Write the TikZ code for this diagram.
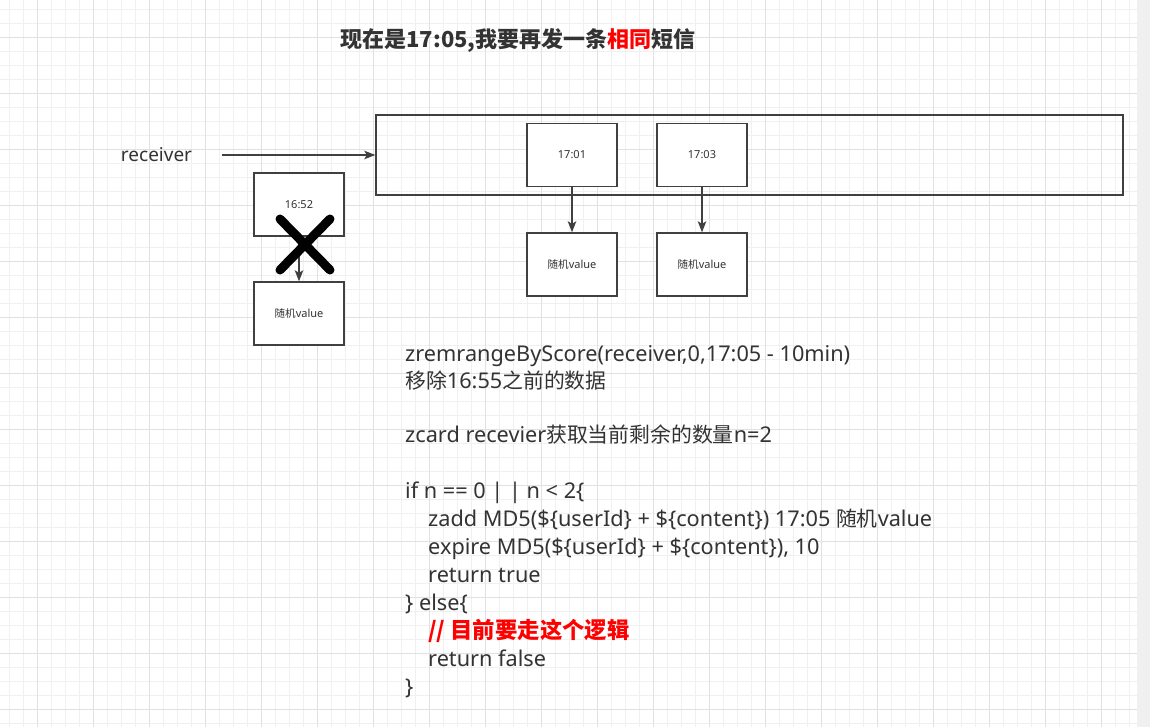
\documentclass[tikz,border=0pt]{standalone}
\usepackage{fontspec}
\setmainfont{Noto Sans}
\newfontfamily\zh{Noto Sans CJK SC}[Scale=0.96]
\newfontfamily\zhb{Noto Sans CJK SC}
\usetikzlibrary{arrows.meta}
\definecolor{txt}{HTML}{333333}
\definecolor{ln}{HTML}{404040}
\definecolor{gminor}{HTML}{F0F0F0}
\definecolor{gmajor}{HTML}{E1E1E1}
\definecolor{strip}{HTML}{F0F0F0}
\newcommand{\Z}[1]{{\zh #1}}
\tikzset{
  box/.style={draw=ln, line width=1.4pt, fill=white, minimum width=90pt, minimum height=63pt, inner sep=0pt, text=txt, font=\fontsize{11}{13}\selectfont},
  arr/.style={draw=ln, line width=1.3pt, -{Stealth[length=11pt,width=8.5pt,inset=2.5pt]}},
  code/.style={anchor=base west, inner sep=0pt, text=txt, font=\fontsize{21.7}{26}\selectfont},
}
\begin{document}
\begin{tikzpicture}[x=1pt,y=-1pt]
\useasboundingbox (0,0) rectangle (1150,727);
\fill[white] (0,0) rectangle (1150,727);
% grid
\foreach \i in {0,...,80} {
  \pgfmathtruncatemacro{\m}{mod(\i,4)}
  \ifnum\m=2 \else \draw[gminor, line width=0.9pt] ({9.33+14*\i},0) -- ({9.33+14*\i},727); \fi
}
\foreach \i in {0,...,51} {
  \pgfmathtruncatemacro{\m}{mod(\i,4)}
  \ifnum\m=2 \else \draw[gminor, line width=0.9pt] (0,{9.33+14*\i}) -- (1137,{9.33+14*\i}); \fi
}
\foreach \i in {2,6,...,80} { \draw[gmajor, line width=1pt] ({9.33+14*\i},0) -- ({9.33+14*\i},727); }
\foreach \i in {2,6,...,50} { \draw[gmajor, line width=1pt] (0,{9.33+14*\i}) -- (1137,{9.33+14*\i}); }
\fill[strip] (1137,0) rectangle (1150,727);

% title
\node[text=txt, font=\fontsize{22}{26}\selectfont\zhb\bfseries, inner sep=0pt] (title) at (518,40)
  {现在是17:05,我要再发一条\textcolor{red}{相同}短信};

% receiver
\node[text=txt, font=\fontsize{19}{23}\selectfont, inner sep=0pt] (recv) at (156.5,155) {receiver};
\coordinate (rstart) at (222,155);
\node[draw=ln, line width=1.4pt, minimum width=747pt, minimum height=80pt, inner sep=0pt] (zset) at (749.5,155) {};
\draw[arr] (rstart) -- (zset.west);

% members
\node[box] (m1) at (572,155) {17:01};
\node[box] (m2) at (702,155) {17:03};
\node[box] (v1) at (572,264.5) {\Z{随机}value};
\node[box] (v2) at (702,264.5) {\Z{随机}value};
\draw[arr] (m1) -- (v1);
\draw[arr] (m2) -- (v2);

% removed member
\node[box] (m0) at (299,204.5) {16:52};
\node[box] (v0) at (299,313.5) {\Z{随机}value};
\draw[arr] (m0) -- (v0);
\coordinate (xa) at (280,219);
\coordinate (xb) at (330,270);
\coordinate (xc) at (330,219);
\coordinate (xd) at (280,270);
\draw[black, line width=9pt, line cap=round] (xa) -- (xb);
\draw[black, line width=9pt, line cap=round] (xc) -- (xd);

% code
\node[code] (c1) at (405,361) {zremrangeByScore(receiver,0,17:05 - 10min)};
\node[code] (c2) at (405,388) {\Z{移除}16:55\Z{之前的数据}};
\node[code] (c3) at (405,442) {zcard recevier\Z{获取当前剩余的数量}n=2};
\node[code] (c4) at (405,498) {if n == 0 | | n < 2\{};
\node[code] (c5) at (428,526) {zadd MD5(\$\{userId\} + \$\{content\}) 17:05 \Z{随机}value};
\node[code] (c6) at (428,554) {expire MD5(\$\{userId\} + \$\{content\}), 10};
\node[code] (c7) at (428,582) {return true};
\node[code] (c8) at (405,610) {\} else\{};
\node[code, text=red, font=\fontsize{22.4}{26}\selectfont\zhb\bfseries] (c9) at (428,638) {//~目前要走这个逻辑};
\node[code] (c10) at (428,666) {return false};
\node[code] (c11) at (405,694) {\}};
\end{tikzpicture}
\end{document}
